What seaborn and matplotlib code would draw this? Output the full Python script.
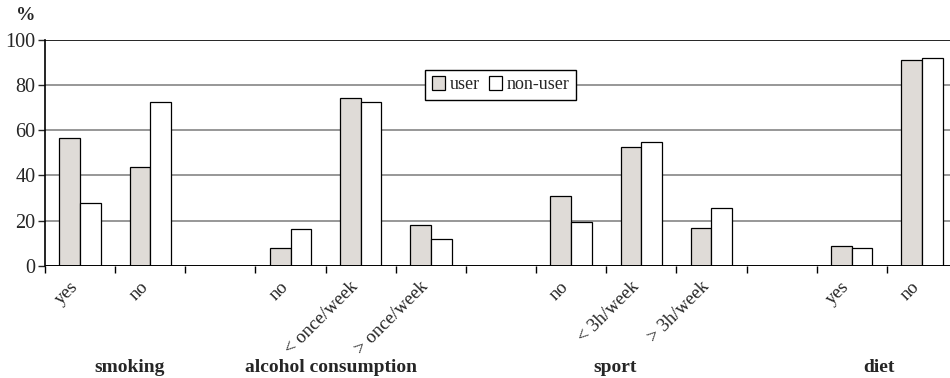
import seaborn as sns
import matplotlib
import matplotlib.pyplot as plt
import matplotlib.transforms as mtransforms
import pandas as pd
import numpy as np

# slot keys along the x axis (gap entries are empty slots between groups)
slots = ["smk_yes", "smk_no", "gap1",
         "alc_no", "alc_lt", "alc_gt", "gap2",
         "spt_no", "spt_lt", "spt_gt", "gap3",
         "diet_yes", "diet_no"]
tick_labels = ["yes", "no", "",
               "no", "< once/week", "> once/week", "",
               "no", "< 3h/week", "> 3h/week", "",
               "yes", "no"]
data_slots = ["smk_yes", "smk_no", "alc_no", "alc_lt", "alc_gt",
              "spt_no", "spt_lt", "spt_gt", "diet_yes", "diet_no"]
user = [56.4, 43.7, 7.7, 74.2, 17.9, 31.0, 52.4, 16.5, 8.7, 91.1]
non_user = [27.6, 72.4, 16.1, 72.4, 11.7, 19.5, 54.8, 25.7, 7.7, 92.2]

groups = ["smoking", "alcohol consumption", "sport", "diet"]
group_x = [0.71, 3.58, 7.63, 11.39]

df = pd.DataFrame({
    "slot": data_slots * 2,
    "pct": user + non_user,
    "who": ["user"] * len(user) + ["non-user"] * len(non_user),
})

sns.set_style("white")
plt.rcParams["font.family"] = ["Liberation Serif", "DejaVu Serif"]
plt.rcParams["font.size"] = 13

fig = plt.figure(figsize=(9.5, 3.78), dpi=100)
ax = fig.add_axes([45 / 950, 1 - 265.7 / 378, 912 / 950, 225.7 / 378])

sns.barplot(ax=ax, data=df, x="slot", y="pct", hue="who", order=slots,
            hue_order=["user", "non-user"],
            palette={"user": "#dfdbd7", "non-user": "white"},
            edgecolor="black", linewidth=0.9, width=0.59, errorbar=None,
            saturation=1)

ax.set_xlim(-0.5, len(slots) - 0.5)
ax.set_ylim(0, 100)
ax.set_yticks([0, 20, 40, 60, 80, 100])
ax.set_yticklabels(["0", "20", "40", "60", "80", "100"], fontsize=14.5)
ax.tick_params(axis="y", direction="out", length=5, width=1, pad=2, left=True)

for v in [20, 40, 60, 80]:
    ax.axhline(v, color="#7a7a7a", lw=1.1, zorder=0)
ax.axhline(100, color="black", lw=1.2, zorder=0)

for s in ["right", "bottom", "top"]:
    ax.spines[s].set_visible(False)
ax.spines["left"].set_color("black")
ax.spines["left"].set_linewidth(1.2)
ax.axhline(0, color="black", lw=1.4, zorder=5)

# boundary ticks between slots, labels at slot centres
ax.set_xticks(np.arange(-0.5, len(slots), 1.0))
ax.set_xticklabels([])
ax.tick_params(axis="x", direction="out", length=5, width=1, bottom=True, color="black")
ax.set_xticks(np.arange(len(slots)), minor=True)
ax.set_xticklabels(tick_labels, minor=True, rotation=45, ha="right",
                   rotation_mode="anchor", fontsize=13.5)
ax.tick_params(axis="x", which="minor", length=0, pad=9)
shift = mtransforms.ScaledTranslation(-11 / 100, 0, fig.dpi_scale_trans)
for lab in ax.get_xticklabels(minor=True):
    lab.set_transform(lab.get_transform() + shift)
ax.set_xlabel("")
ax.set_ylabel("")

trans = mtransforms.blended_transform_factory(ax.transData, ax.transAxes)
for g, gx in zip(groups, group_x):
    ax.text(gx, -0.453, g, transform=trans, ha="center", va="center",
            fontsize=14, fontweight="bold")

fig.text(26 / 950, 1 - 15 / 378, "%", ha="center", va="center",
         fontsize=14, fontweight="bold")

ax.legend_.remove()
leg = ax.legend(loc="upper left", bbox_to_anchor=(0.417, 0.867), ncol=2,
                frameon=True, fancybox=False, edgecolor="black",
                borderaxespad=0, handlelength=0.75, handleheight=0.75,
                handletextpad=0.25, columnspacing=0.5, borderpad=0.35,
                fontsize=13)
leg.get_frame().set_linewidth(1.0)
leg.get_frame().set_alpha(1)

fig.savefig("out.png", dpi=100)
